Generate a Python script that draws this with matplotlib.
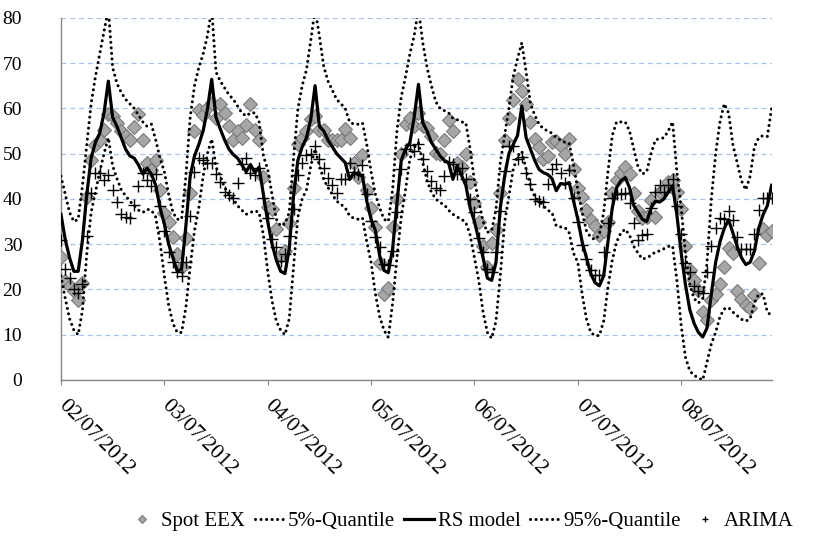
import matplotlib
matplotlib.use("Agg")
import matplotlib.pyplot as plt
import numpy as np

plt.rcParams['font.family'] = ['Liberation Serif', 'DejaVu Serif']

day_labels = ["02/07/2012", "03/07/2012", "04/07/2012", "05/07/2012",
              "06/07/2012", "07/07/2012", "08/07/2012"]

spot_eex = [
    27.1, 21.9, 20.7, 19.7, 17.7, 21.4, 40.5, 48.7, 52, 52.9, 55.2, 58.8, 58.2, 56.7, 55.1, 53.9, 53, 55.8, 58.8, 52.9, 47.9, 46.3, 48.7, 42,
    36.8, 35, 31.5, 27.8, 24.9, 31.3, 41.4, 54.9, 59.7, 58.6, 60, 61.1, 57.8, 61, 58.9, 56, 53, 55.1, 53.4, 56.4, 61, 55.2, 53, 44.9,
    38.3, 37.7, 33.3, 27.4, 28.6, 34.6, 42.4, 52.2, 53.4, 54.9, 57.6, 58.3, 55.2, 55.2, 53, 53, 53, 53, 55.4, 53.4, 48, 44.8, 49.7, 42,
    37.9, 33.9, 25.9, 18.9, 20.3, 33.7, 40, 49.9, 56.6, 57.8, 56, 58.9, 56, 55.7, 53.9, 50.1, 50, 53, 57.5, 54.9, 47.9, 47, 49.9, 43.8,
    39, 34.8, 29.6, 25, 30.2, 33.1, 41.4, 53, 57.8, 61.9, 66.5, 63.9, 61, 56.9, 53.2, 51.4, 48.8, 49.5, 52.6, 52.8, 51.7, 49.9, 53.3, 46.5,
    42.4, 40.5, 37.6, 35.3, 34, 32, 32.8, 34.8, 41.4, 44.2, 45.7, 47, 45.5, 41.4, 37.4, 35.8, 35.9, 39.8, 35.9, 41.5, 42, 43.7, 44.2, 41.6,
    37.8, 29.5, 24.2, 22, 19.9, 15, 13.3, 17.6, 19.1, 21.1, 25, 29.2, 28.1, 19.6, 17.9, 16.6, 15.9, 18.8, 25.9, 33.4, 32, 33,
]

q05 = [
    23, 18, 13.5, 11, 10, 15.5, 28, 37, 41.5, 46, 50, 53.5, 47.3, 44.5, 42, 40.7, 39.5, 38.5, 37.5, 37, 37.7, 37.5, 36, 30.4,
    23, 16.5, 12.5, 10.5, 10.5, 16, 25, 33, 38, 45, 50, 53.2, 47, 45, 42.5, 41, 40, 38.5, 37.5, 36.6, 37, 37.4, 37, 32,
    24, 17.5, 13, 11, 10, 13.5, 25, 36, 40, 42, 47.3, 51, 47.3, 44.3, 42.5, 41, 39.5, 38.8, 38, 36.3, 35.7, 35.5, 35.8, 30.5,
    26, 19, 14, 11, 9.4, 17, 27, 36, 42, 48.8, 51.3, 52.4, 48, 44, 41.5, 40, 39.2, 38.7, 37.5, 36.6, 36, 35.5, 34.8, 32,
    27, 22, 15, 10.5, 9.2, 13, 23, 34.8, 40.7, 46.5, 49.5, 50.5, 46.5, 42.9, 40.5, 39.5, 38.5, 37.5, 37, 34, 33.8, 33.7, 32.5, 28,
    26, 19, 13.5, 10.5, 9.8, 9.8, 13, 20.5, 26.5, 30.5, 32.5, 33.3, 32, 29.5, 28, 26.7, 27, 27.5, 28.3, 28.5, 29, 29.5, 29.6, 22,
    12, 5, 2, 1, 0.5, 0, 4, 8, 10.5, 14, 15.7, 16, 15, 14.2, 13.4, 13, 13.5, 17, 19, 19, 15, 14.2,
]

rs_model = [
    36.6, 31, 27, 24, 24, 31, 41, 49, 52.5, 54.5, 59, 66, 58, 56, 53.5, 51, 49.5, 49, 47.5, 45.5, 46.8, 45.5, 43, 38,
    34.5, 30, 27, 24, 24.5, 34, 45, 49.5, 52, 55, 59.8, 66.4, 58, 55.4, 53, 51, 49.8, 49, 47.5, 46, 47.6, 45.8, 47, 41,
    35, 30, 26.5, 24, 23.5, 29, 40.7, 48.5, 51.5, 53.5, 57.6, 65, 56, 55, 53, 51.5, 50, 49, 48, 44.3, 45.8, 45.4, 45, 39.5,
    35.5, 33, 27.4, 24.2, 23.7, 29, 39, 48.5, 51, 52.4, 58, 65.3, 56.8, 55, 52.5, 51, 49.5, 48.5, 48, 44.3, 47.3, 45.2, 43, 38,
    35, 31, 27, 22.5, 22, 26, 38, 45, 50, 52, 54, 60.5, 53.5, 51, 48.5, 46.5, 45.8, 45.4, 44.5, 41.8, 43.4, 43.2, 43.6, 39.5,
    35.5, 30.5, 27, 23.5, 21.5, 20.8, 23, 30.5, 38, 42.5, 44, 44.7, 42.5, 38.5, 37, 35.5, 35, 38, 39.5, 39.3, 40, 41.5, 42.9, 36.5,
    28, 21, 15.5, 12.5, 10.5, 9.5, 11.5, 19, 26, 30.5, 33.5, 35.4, 32.5, 29.5, 27, 25.5, 26, 28.5, 33.5, 36.5, 38.5, 43,
]

q95 = [
    45, 41, 37, 35, 35.5, 43, 52, 61, 67, 72, 77, 82, 69, 65.5, 63.5, 62, 61, 60, 58.5, 57, 56, 56.5, 53, 49,
    46, 41, 37, 35.5, 35.5, 45, 58, 65, 69, 72, 76, 82, 68, 66, 64.5, 63, 62, 60.5, 59, 58.3, 59, 59, 57, 49.5,
    46.5, 41, 35.5, 34, 34.5, 37, 49, 59.8, 65, 68.5, 75, 82, 76, 69.3, 66, 64, 62, 61, 60, 57, 56.5, 56.5, 56.8, 52,
    46, 41, 38, 35.5, 35, 42, 55, 62.5, 67, 72, 76, 82, 74.5, 69, 65, 61.5, 60, 59.5, 59, 57.8, 57.5, 57, 56.8, 51,
    44, 39.5, 35, 32.6, 33, 37.7, 48, 54, 60, 67, 71, 74.5, 68, 61, 58.5, 56.5, 55.5, 55, 54.5, 53.5, 53, 52.5, 52.3, 47.5,
    42, 37, 33, 31.5, 31, 32, 37, 46, 54, 57, 57, 57, 55, 51, 47, 45.5, 46, 50, 53, 53.3, 53.5, 55, 57, 46,
    38, 28, 21, 18, 17, 18, 26, 40, 50, 57, 61, 59, 52, 48, 44, 42, 45, 51.5, 53.5, 54, 53.8, 60,
]

arima = [
    31, 24.5, 22.6, 20, 19.3, 21.2, 31.8, 41.4, 45.8, 45.7, 44.2, 45.2, 42, 39.3, 36.6, 35.9, 35.7, 38.6, 42.9, 45.7, 44.2, 42.9, 45.4, 38.5,
    32.9, 28.2, 26, 23.8, 23, 26.1, 36.2, 46, 49.1, 48.6, 47.9, 47.9, 45.5, 43.8, 41.6, 40.8, 40.3, 43.6, 47.6, 49.1, 45.8, 45.2, 46.9, 40.3,
    35.7, 31.1, 29.3, 26.3, 27.8, 31.8, 37.7, 45.3, 47.9, 49.7, 49.9, 51.6, 48.8, 46.8, 44.6, 43.1, 41.4, 44.4, 44.3, 47.9, 46, 45.4, 47.4, 41,
    35.1, 31.5, 29.3, 25.6, 25.4, 28.5, 37, 46.7, 51, 51.8, 50.6, 52.1, 48.8, 46.2, 44, 42.5, 42, 45.1, 48.2, 47.6, 45.4, 46.9, 44.5, 40,
    37, 31.3, 28.3, 24.5, 23.8, 28.2, 37.4, 46.2, 51.7, 51.7, 48.9, 49.2, 45.8, 43.2, 40, 39.6, 39.4, 43.3, 46.5, 47.7, 45.8, 43.6, 46.4, 40.2,
    34.8, 29.9, 26.8, 24.3, 23.3, 23.3, 28.2, 34.7, 40.1, 41.1, 41, 41.3, 39, 34.6, 31, 32, 32.3, 38, 41.5, 43, 41.5, 43, 44.5, 38.5,
    32.2, 25.9, 23.8, 20.8, 19.6, 19.2, 23.9, 29.6, 33.6, 35.7, 35.6, 37.3, 35.4, 31.5, 28.9, 28.9, 28.9, 32.3, 37.6, 40.2, 40.2, 40.2,
]

hours = np.arange(len(rs_model))
day_ticks = np.arange(len(day_labels)) * 24

fig = plt.figure(figsize=(8.15, 5.39), dpi=100)
ax = fig.add_axes([0.0748, 0.295, 0.872, 0.672])

dot_style = (0, (0.01, 1.8))

ax.plot(hours, spot_eex, linestyle='none', marker='D', markersize=7,
        markerfacecolor='#A6A6A6', markeredgecolor='#7A7A7A', markeredgewidth=0.8,
        label='Spot EEX', zorder=3)
ax.plot(hours, q05, color='black', linestyle=dot_style, linewidth=2.2,
        dash_capstyle='round', label='5%-Quantile', zorder=4)
ax.plot(hours, rs_model, color='black', linestyle='-', linewidth=2.3,
        label='RS model', zorder=5)
ax.plot(hours, q95, color='black', linestyle=dot_style, linewidth=2.2,
        dash_capstyle='round', label='95%-Quantile', zorder=4)
ax.plot(hours, arima, linestyle='none', marker='+', markersize=8,
        color='black', markeredgewidth=1.0, label='ARIMA', zorder=6)

ax.set_xlim(0, len(rs_model) - 1)
ax.set_ylim(0, 80)
ax.set_yticks(np.arange(0, 81, 10))
ax.set_xticks(day_ticks)
ax.set_xticklabels(day_labels, rotation=-45, ha='left', va='center',
                   rotation_mode='anchor', fontsize=15.5)
ax.tick_params(axis='x', length=3.5, color='#868686', pad=13, direction='out')
ax.tick_params(axis='y', length=0, pad=28, labelsize=14)

ax.grid(axis='y', color='#A9C2EA', linestyle=(0, (4, 3)), linewidth=0.9)
ax.set_axisbelow(True)
for side in ['top', 'right']:
    ax.spines[side].set_visible(False)
for side in ['left', 'bottom']:
    ax.spines[side].set_color('#868686')
    ax.spines[side].set_linewidth(1.0)

handles, labels = ax.get_legend_handles_labels()
leg = fig.legend(handles, labels, loc='lower center', ncol=5, frameon=False,
                 bbox_to_anchor=(0.565, -0.02), fontsize=15, handlelength=1.4,
                 handletextpad=0.2, columnspacing=0.45, markerscale=0.55)

fig.savefig('out.png', dpi=100)
